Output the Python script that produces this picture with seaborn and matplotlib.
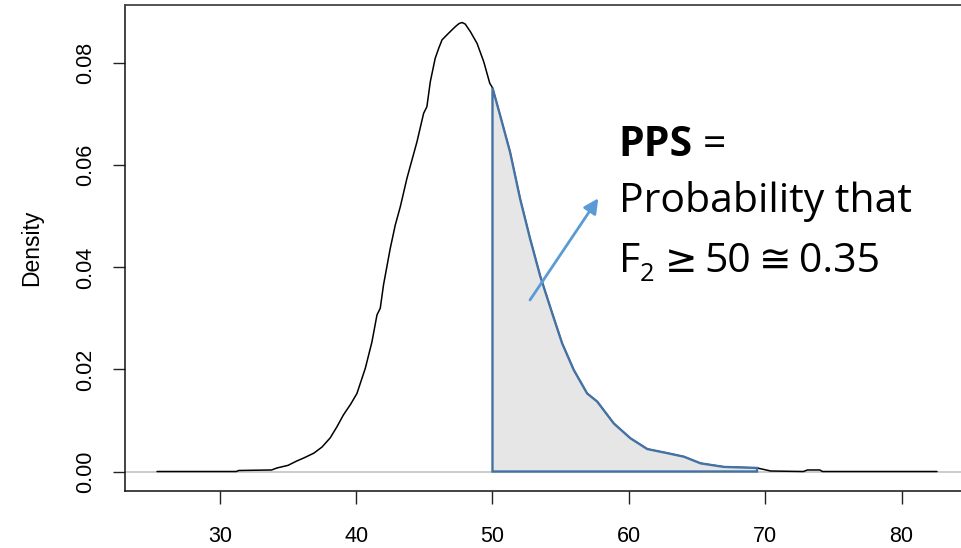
import matplotlib
matplotlib.use("Agg")
import matplotlib.pyplot as plt
import numpy as np
import pandas as pd
import seaborn as sns

# density curve of F2
f2_values = [25.4, 31.2, 31.4, 33.8, 34.2, 35.0, 35.6, 36.2, 36.9, 37.5,
             38.1, 38.6, 39.07, 39.6, 40.06, 40.67, 41.16, 41.53, 41.77, 42.01,
             42.5, 42.87, 43.24, 43.73, 44.46, 44.95, 45.19, 45.44, 45.8, 46.05,
             46.3, 46.78, 47.28, 47.55, 47.77, 48.0, 48.38, 48.87, 49.36, 49.8,
             50.0, 50.56, 51.29, 52.03, 52.76, 53.5, 54.38, 55.11, 55.96, 56.94,
             57.68, 58.9, 60.12, 61.35, 62.82, 64.04, 65.26, 66.97, 69.4, 70.4,
             72.8, 73.1, 74.0, 74.2, 82.6]
density = [0.0, 0.0, 0.0002, 0.0003, 0.0007, 0.0012, 0.0020, 0.0027, 0.0036, 0.0048,
           0.0066, 0.0088, 0.0111, 0.0132, 0.0153, 0.0202, 0.0254, 0.0307, 0.0320, 0.0366,
           0.0437, 0.0483, 0.0519, 0.0575, 0.0646, 0.0702, 0.0715, 0.0764, 0.0810, 0.0829,
           0.0846, 0.0859, 0.0872, 0.0878, 0.0880, 0.0877, 0.0862, 0.0839, 0.0803, 0.0761,
           0.0752, 0.0698, 0.0626, 0.0534, 0.0456, 0.0383, 0.0310, 0.0251, 0.0199, 0.0153,
           0.0137, 0.0094, 0.0065, 0.0044, 0.0036, 0.0029, 0.0016, 0.0009, 0.0007, 0.0001,
           0.0, 0.0003, 0.0003, 0.0, 0.0]

shade_lo = 50.0
shade_hi = 69.4

x_ticks = [30, 40, 50, 60, 70, 80]
y_ticks = [0.00, 0.02, 0.04, 0.06, 0.08]
y_tick_labels = ["0.00", "0.02", "0.04", "0.06", "0.08"]

df = pd.DataFrame({"F2": f2_values, "Density": density})

sns.set_theme(style="ticks")
plt.rcParams["font.family"] = ["Liberation Sans", "DejaVu Sans"]
plt.rcParams["text.color"] = "black"

W, H = 961, 548
fig = plt.figure(figsize=(W / 100, H / 100), dpi=100)
ax = fig.add_axes([125 / W, 1 - 491 / H, (W - 125) / W + 0.001, (491 - 4.7) / H])


def px(x, y):
    return x / W, 1 - y / H


ax.axhline(0, color="#c4c4c4", lw=1.2, zorder=1)

sns.lineplot(data=df, x="F2", y="Density", color="black", lw=1.1,
             sort=False, estimator=None, ax=ax, zorder=3)

# shaded tail area F2 >= 50
tail = df[(df["F2"] >= shade_lo) & (df["F2"] <= shade_hi)]
poly_x = [shade_lo] + tail["F2"].tolist() + [shade_hi]
poly_y = [0.0] + tail["Density"].tolist() + [0.0]
ax.fill(poly_x, poly_y, facecolor="#e6e6e6", edgecolor="#4472a4", lw=1.7,
        zorder=4, closed=True)

ax.set_xlim(23.05, 84.43)
ax.set_ylim(-0.00382, 0.09149)
ax.set_xticks(x_ticks)
ax.set_yticks(y_ticks)
ax.set_yticklabels(y_tick_labels, rotation=90, va="center")

ax.tick_params(axis="both", direction="out", length=9, width=1.0, colors="#222222",
               labelsize=15.5, labelcolor="black")
ax.tick_params(axis="x", pad=16.5)
ax.tick_params(axis="y", pad=11.5)

ax.spines["right"].set_visible(False)
for side in ["left", "bottom"]:
    ax.spines[side].set_color("#111111")
    ax.spines[side].set_linewidth(1.1)
ax.spines["top"].set_color("#444444")
ax.spines["top"].set_linewidth(1.3)

ax.set_xlabel("")
ax.set_ylabel("Density", fontsize=16.5, color="black")
ax.yaxis.label.set_va("center")
ax.yaxis.label.set_ha("center")
ax.yaxis.set_label_coords((31.7 - 125) / (W - 125), 0.5)

# annotation
ax.annotate("", xy=px(598.3, 198.3), xytext=px(530, 300),
            xycoords="figure fraction", textcoords="figure fraction",
            arrowprops=dict(arrowstyle="-|>", color="#5b9bd5", lw=2.0,
                            mutation_scale=22, shrinkA=0, shrinkB=0),
            zorder=6)

txt_font = ["Open Sans", "DejaVu Sans"]
sym_font = ["DejaVu Sans"]
fs = 29.5
kw = dict(va="baseline", ha="left", color="black")
fig.text(*px(618, 155.7), "PPS", family=txt_font, fontsize=fs, fontweight="bold", **kw)
fig.text(*px(703, 155.7), "=", family=txt_font, fontsize=fs, **kw)
fig.text(*px(619, 211.5), "Probability that", family=txt_font, fontsize=fs, **kw)
fig.text(*px(619, 271.7), "F", family=txt_font, fontsize=fs, **kw)
fig.text(*px(640, 281.0), "2", family=txt_font, fontsize=fs * 0.62, **kw)
fig.text(*px(665, 271.7), "\u2265", family=sym_font, fontsize=fs * 0.95, **kw)
fig.text(*px(704, 271.7), "50", family=txt_font, fontsize=fs, **kw)
fig.text(*px(759, 271.7), "\u2245", family=sym_font, fontsize=fs * 0.95, **kw)
fig.text(*px(799, 271.7), "0.35", family=txt_font, fontsize=fs, **kw)

fig.savefig("out.png", dpi=100)
